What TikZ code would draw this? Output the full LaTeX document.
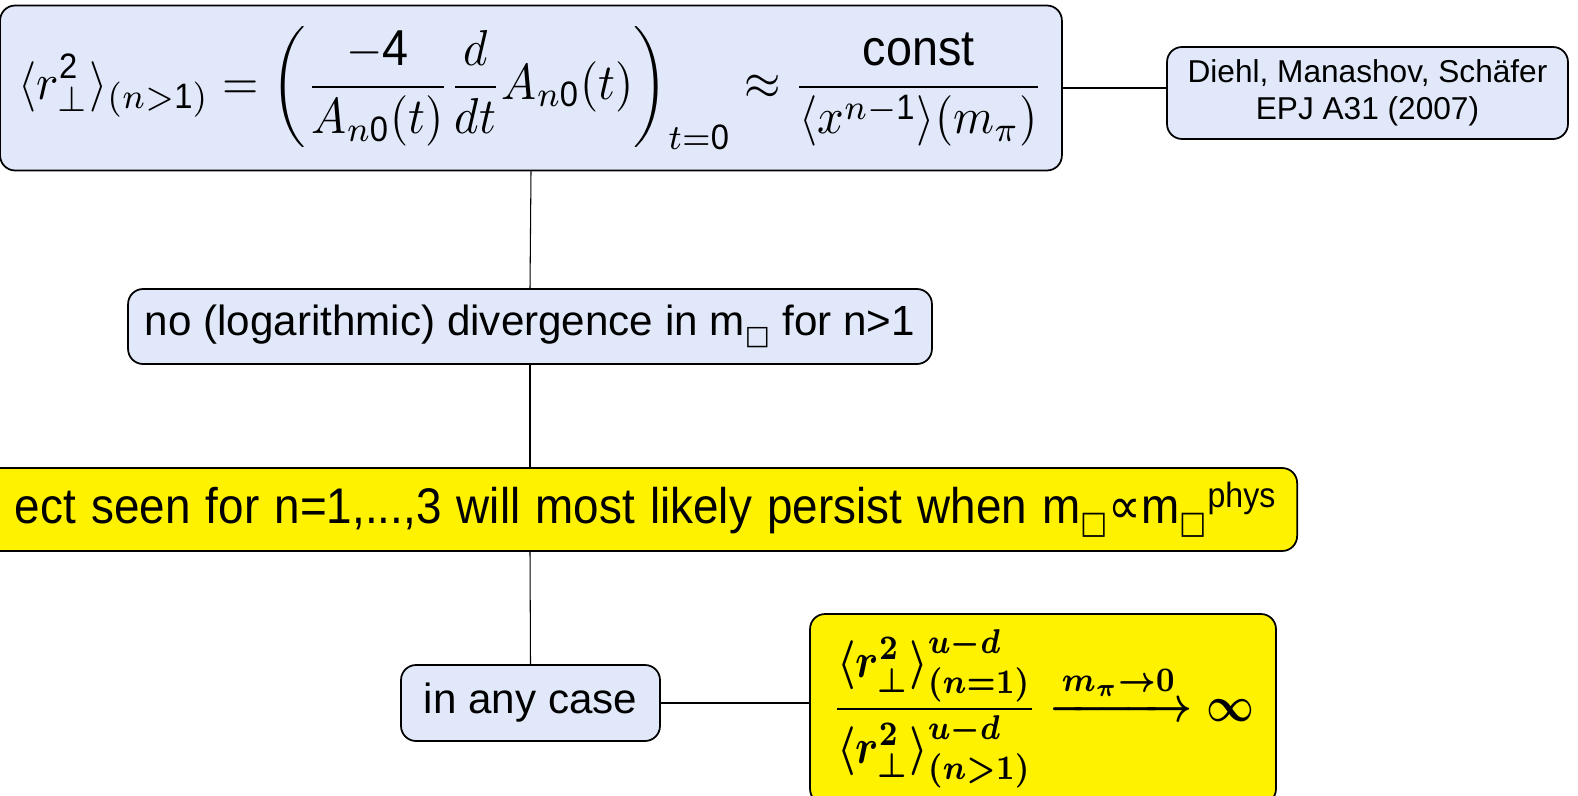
\documentclass[tikz,border=0pt]{standalone}
\usepackage{amsmath}
\usepackage{graphicx}
\usepackage{fontspec}
\setmainfont{Liberation Sans}
\newfontfamily\symfont{DejaVu Sans}
\definecolor{boxblue}{RGB}{224,232,250}
\newcommand{\mpion}{m\textsubscript{\raisebox{-0.2ex}{\scalebox{0.9}{\symfont\bfseries □}}}}

\begin{document}
\begin{tikzpicture}[x=0.02cm, y=-0.02cm,
    bluebox/.style={draw, line width=1pt, rounded corners=0.3cm, fill=boxblue, inner sep=0pt},
    yellowbox/.style={draw, line width=1pt, rounded corners=0.3cm, fill=yellow, inner sep=0pt},
    thinlink/.style={line width=0.6pt},
    thicklink/.style={line width=1.5pt}]

    \useasboundingbox (0,0) rectangle (1578,795);
    \clip (0,0) rectangle (1578,795);

    % Boxes
    \node[bluebox, minimum width=21.24cm, minimum height=3.3cm] (radius) at (531,88)
      {\scalebox{1}[1.08]{\resizebox{20.5cm}{!}{$\displaystyle \langle r_\perp^{\mathrm{2}}\rangle_{(n>\mathrm{1})} = \left(\frac{-\mathrm{4}}{A_{n\mathrm{0}}(t)}\frac{d}{dt}A_{n\mathrm{0}}(t)\right)_{t=\mathrm{0}} \approx \frac{\mathrm{const}}{\langle x^{n-\mathrm{1}}\rangle(m_\pi)}$}}};
    \node[bluebox, minimum width=8.02cm, minimum height=1.84cm, align=center, font=\fontsize{18}{21}\selectfont] (paper) at (1367.5,93)
      {Diehl, Manashov, Schäfer\\EPJ A31 (2007)};
    \node[bluebox, minimum width=16.08cm, minimum height=1.5cm, font=\fontsize{24}{28}\selectfont] (nodiv) at (530,326.5)
      {no (logarithmic) divergence in \mpion{} for n>1};
    \node[yellowbox, anchor=east, minimum height=1.66cm, inner xsep=0.42cm, text width=27cm, align=right, font=\fontsize{28.5}{32}\selectfont] (persist) at (1298,509.5)
      {\scalebox{0.915}[1]{ect seen for n=1,...,3 will most likely persist when \mpion{\symfont∝}\mpion\textsuperscript{phys}}};
    \node[bluebox, minimum width=5.18cm, minimum height=1.52cm, font=\fontsize{24}{28}\selectfont] (anycase) at (530.5,703)
      {in any case};
    \node[yellowbox, minimum width=9.32cm, minimum height=3.8cm] (ratio) at (1043,709)
      {\scalebox{1}[1.18]{\resizebox{8.44cm}{!}{\boldmath$\displaystyle \frac{\langle r_\perp^{\mathbf{2}}\rangle^{u-d}_{(n=\mathbf{1})}}{\langle r_\perp^{\mathbf{2}}\rangle^{u-d}_{(n>\mathbf{1})}} \xrightarrow{m_\pi\to \mathbf{0}} \infty$}}};

    % Connectors
    \draw[thicklink] (radius.east) -- (radius.east -| paper.west);
    \draw[thinlink] (radius.south) -- (nodiv.north);
    \draw[thinlink] (nodiv.south) -- (nodiv.south |- persist.north);
    \draw[thinlink] (nodiv.south |- persist.south) -- (anycase.north);
    \draw[thicklink] (anycase.east) -- (anycase.east -| ratio.west);

\end{tikzpicture}
\end{document}
